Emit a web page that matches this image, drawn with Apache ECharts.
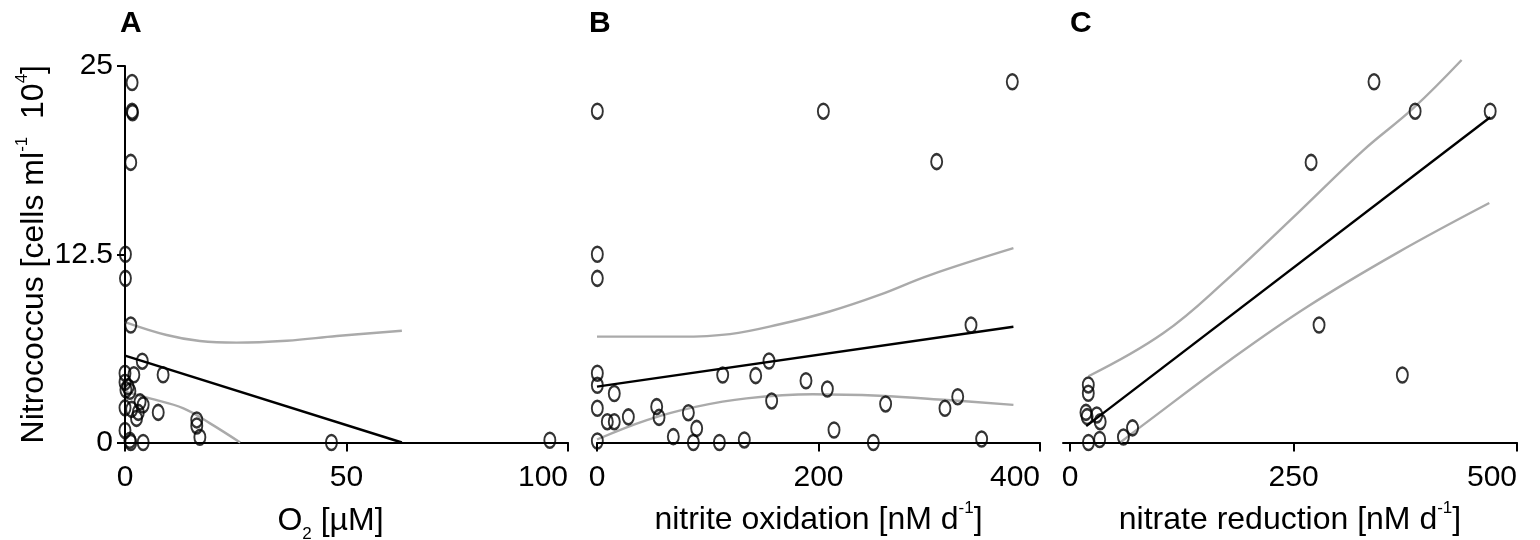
<!DOCTYPE html>
<html>
<head>
<meta charset="utf-8">
<script src="https://cdn.jsdelivr.net/npm/echarts@6/dist/echarts.min.js"></script>
<style>
  html, body { margin: 0; padding: 0; background: #fff; }
  #chart { width: 1540px; height: 540px; }
</style>
</head>
<body>
<div id="chart"></div>
<script>
// A: O2 vs Nitrococcus
const o2X = [1.6, 1.6, 1.7, 1.3, 0.1, 0.1, 1.3, 3.9, 8.6, 0.0, 2.0, 0.0, 0.7, 0.2, 1.1, 3.4, 4.1, 0.0, 1.5, 3.0, 2.6, 7.5, 16.2, 16.2, 16.9, 0.0, 1.1, 1.3, 4.1, 46.6, 95.9];
const o2Cells = [23.9, 22.0, 21.9, 18.6, 12.5, 10.9, 7.8, 5.4, 4.5, 4.6, 4.5, 4.0, 3.7, 3.5, 3.4, 2.7, 2.5, 2.3, 2.2, 2.0, 1.6, 2.0, 1.5, 1.1, 0.35, 0.8, 0.15, 0.0, 0.0, 0.0, 0.15];
const o2FitX = [0, 62.5];
const o2FitY = [5.77, 0];
const o2UpperX = [0, 9.4, 16.9, 25.2, 36.5, 47.8, 62.5];
const o2UpperY = [8.0, 7.14, 6.74, 6.63, 6.76, 7.07, 7.42];
const o2LowerX = [0, 5.6, 13.2, 19.2, 26];
const o2LowerY = [3.37, 2.93, 2.27, 1.27, 0];

// B: nitrite oxidation vs Nitrococcus
const nitriteX = [0.3, 204.4, 375, 306.7, 0.3, 0.3, 337.7, 0.3, 0.3, 15.6, 0.3, 9.3, 15.6, 28.3, 53.9, 56, 82.5, 90, 68.9, 87, 110.5, 133, 113.5, 143.3, 155.3, 157.7, 188.7, 208, 214, 249.5, 260.6, 314.2, 325.7, 347.3, 0.3];
const nitriteCells = [22.0, 22.0, 23.95, 18.65, 12.5, 10.9, 7.8, 4.6, 3.8, 3.25, 2.27, 1.38, 1.38, 1.7, 2.38, 1.67, 1.98, 0.94, 0.39, 0, 0, 0.17, 4.48, 4.44, 5.41, 2.76, 4.1, 3.55, 0.83, 0, 2.56, 2.27, 3.04, 0.23, 0.1];
const nitriteFitX = [0, 376];
const nitriteFitY = [3.71, 7.69];
const nitriteUpperX = [0, 74.5, 120, 165, 210, 255, 300, 376];
const nitriteUpperY = [7.03, 7.03, 7.2, 7.85, 8.7, 9.8, 11.1, 12.9];
const nitriteLowerX = [0, 45, 90, 135, 195, 255, 316, 376];
const nitriteLowerY = [0.2, 1.49, 2.38, 2.93, 3.2, 3.1, 2.82, 2.5];

// C: nitrate reduction vs Nitrococcus
const nitrateX = [340, 386, 470, 269.6, 278.5, 371.7, 20.3, 20.3, 17.7, 19, 29.8, 33.6, 20.5, 33, 59.6, 69.8];
const nitrateCells = [23.95, 22.0, 22.0, 18.6, 7.8, 4.48, 3.82, 3.27, 2.0, 1.72, 1.83, 1.38, 0, 0.2, 0.36, 0.97];
const nitrateFitX = [18, 470];
const nitrateFitY = [1.09, 21.6];
const nitrateUpperX = [20.5, 104, 175, 254, 328, 384, 438];
const nitrateUpperY = [4.4, 7.25, 10.8, 15.2, 19.4, 22.2, 25.4];
const nitrateLowerX = [56, 84, 179, 265, 365, 469];
const nitrateLowerY = [0, 1.27, 5.48, 9.0, 12.56, 15.9];

const yTicks = [0, 12.5, 25];

const font = "'Liberation Sans', Arial, sans-serif";
const zip = (xs, ys) => xs.map((x, i) => [x, ys[i]]);

const chart = echarts.init(document.getElementById('chart'));

// fixed plot boxes, no auto shrinking to fit labels
const grids = [
  { left: 125, top: 66, width: 443, height: 376.5, outerBoundsMode: 'none' },
  { left: 597, top: 66, width: 443, height: 376.5, outerBoundsMode: 'none' },
  { left: 1063, top: 66, width: 454, height: 376.5, outerBoundsMode: 'none' }
];

const richName = {
  t: { fontSize: 32, fontFamily: font, color: '#000' },
  sup: { fontSize: 17, fontFamily: font, color: '#000', padding: [0, 0, 24, 0] },
  sub: { fontSize: 17, fontFamily: font, color: '#000', padding: [26, 0, 0, 0] }
};

function xAxis(idx, min, max, interval, name, ticks, namePad) {
  return {
    gridIndex: idx,
    type: 'value',
    min: min,
    max: max,
    interval: interval,
    name: name,
    nameLocation: 'middle',
    nameGap: 57,
    nameTextStyle: { rich: richName, padding: namePad },
    axisLine: { show: true, onZero: false, lineStyle: { color: '#000', width: 2 } },
    axisTick: { show: true, length: 9, lineStyle: { color: '#000', width: 2 }, customValues: ticks },
    axisLabel: { fontSize: 30, fontFamily: font, color: '#000', margin: 20, customValues: ticks, alignMaxLabel: 'right' },
    splitLine: { show: false }
  };
}

function yAxis(idx, visible) {
  return {
    gridIndex: idx,
    type: 'value',
    min: 0,
    max: 25,
    interval: 12.5,
    show: visible,
    name: visible ? '{t|Nitrococcus [cells ml}{sup|-1}{t|  10}{sup|4}{t|]}' : '',
    nameLocation: 'middle',
    nameRotate: 90,
    nameGap: 70,
    nameTextStyle: { rich: Object.assign({}, richName, { t: { fontSize: 32, fontFamily: font, color: '#000' } }) },
    axisLine: { show: true, lineStyle: { color: '#000', width: 2 } },
    axisTick: { show: true, length: 8, lineStyle: { color: '#000', width: 2 }, customValues: yTicks },
    axisLabel: { fontSize: 30, fontFamily: font, color: '#000', margin: 12, customValues: yTicks },
    splitLine: { show: false }
  };
}

function points(idx, xs, ys) {
  return {
    type: 'scatter',
    xAxisIndex: idx,
    yAxisIndex: idx,
    symbol: 'circle',
    symbolSize: [11, 15],
    z: 5,
    itemStyle: { color: 'rgba(0,0,0,0)', borderColor: '#000', borderWidth: 2.2 },
    data: zip(xs, ys)
  };
}

function curve(idx, xs, ys, color, smooth) {
  return {
    type: 'line',
    xAxisIndex: idx,
    yAxisIndex: idx,
    showSymbol: false,
    smooth: smooth,
    clip: false,
    lineStyle: { color: color, width: 2.4 },
    data: zip(xs, ys)
  };
}

const gray = '#aaaaaa';
const letterStyle = { fontSize: 30, fontWeight: 'bold', fontFamily: font, color: '#000' };

chart.setOption({
  animation: false,
  title: [
    { text: 'A', left: 115, top: 4, textStyle: letterStyle },
    { text: 'B', left: 584, top: 4, textStyle: letterStyle },
    { text: 'C', left: 1065, top: 4, textStyle: letterStyle }
  ],
  grid: grids,
  xAxis: [
    xAxis(0, 0, 100, 50, '{t|O}{sub|2}{t| [µM]}', [0, 50, 100], [0, 32, 0, 0]),
    xAxis(1, 0, 400, 200, '{t|nitrite oxidation [nM d}{sup|-1}{t|]}', [0, 200, 400], 0),
    xAxis(2, -8, 500, 250, '{t|nitrate reduction [nM d}{sup|-1}{t|]}', [0, 250, 500], 0)
  ],
  yAxis: [yAxis(0, true), yAxis(1, false), yAxis(2, false)],
  series: [
    curve(0, o2UpperX, o2UpperY, gray, 0.4),
    curve(0, o2LowerX, o2LowerY, gray, 0.4),
    curve(0, o2FitX, o2FitY, '#000', false),
    points(0, o2X, o2Cells),
    curve(1, nitriteUpperX, nitriteUpperY, gray, 0.4),
    curve(1, nitriteLowerX, nitriteLowerY, gray, 0.4),
    curve(1, nitriteFitX, nitriteFitY, '#000', false),
    points(1, nitriteX, nitriteCells),
    curve(2, nitrateUpperX, nitrateUpperY, gray, 0.4),
    curve(2, nitrateLowerX, nitrateLowerY, gray, 0.4),
    curve(2, nitrateFitX, nitrateFitY, '#000', false),
    points(2, nitrateX, nitrateCells)
  ]
});
</script>
</body>
</html>
